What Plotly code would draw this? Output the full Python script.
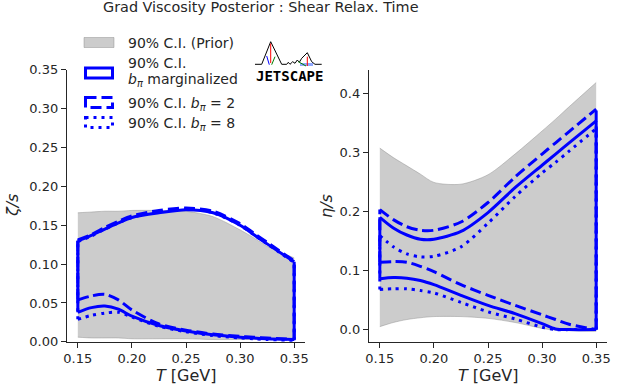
import plotly.graph_objects as go
from plotly.subplots import make_subplots

# temperatures (GeV) where the bands were read
T = [0.15, 0.1625, 0.175, 0.1875, 0.2, 0.225, 0.25, 0.275, 0.3, 0.3125, 0.325, 0.35]

# zeta/s  -- bulk viscosity
zeta_prior_hi = [0.166, 0.167, 0.168, 0.168, 0.169, 0.169, 0.168, 0.161, 0.144, 0.134, 0.123, 0.108]
zeta_prior_lo = [0.006, 0.005, 0.005, 0.005, 0.004, 0.004, 0.004, 0.003, 0.003, 0.003, 0.003, 0.003]
zeta_marg_hi = [0.130, 0.137, 0.145, 0.153, 0.160, 0.166, 0.170, 0.166, 0.150, 0.138, 0.126, 0.103]
zeta_marg_lo = [0.038, 0.044, 0.046, 0.042, 0.033, 0.021, 0.014, 0.009, 0.006, 0.005, 0.004, 0.003]
zeta_b2_hi = [0.131, 0.138, 0.147, 0.155, 0.162, 0.169, 0.172, 0.168, 0.152, 0.140, 0.128, 0.104]
zeta_b2_lo = [0.054, 0.059, 0.061, 0.054, 0.041, 0.023, 0.015, 0.010, 0.007, 0.006, 0.005, 0.003]
zeta_b8_hi = [0.129, 0.136, 0.145, 0.153, 0.160, 0.167, 0.171, 0.166, 0.150, 0.138, 0.126, 0.102]
zeta_b8_lo = [0.029, 0.034, 0.037, 0.038, 0.032, 0.020, 0.013, 0.008, 0.005, 0.004, 0.003, 0.002]

# eta/s  -- shear viscosity
eta_prior_hi = [0.307, 0.291, 0.277, 0.263, 0.249, 0.246, 0.262, 0.297, 0.336, 0.356, 0.377, 0.418]
eta_prior_lo = [0.005, 0.012, 0.017, 0.020, 0.022, 0.022, 0.019, 0.012, 0.002, -0.001, -0.002, -0.003]
eta_marg_hi = [0.190, 0.172, 0.160, 0.153, 0.153, 0.166, 0.198, 0.240, 0.278, 0.297, 0.316, 0.353]
eta_marg_lo = [0.086, 0.088, 0.087, 0.083, 0.076, 0.058, 0.041, 0.027, 0.010, 0.001, 0.0, 0.0]
eta_b2_hi = [0.203, 0.186, 0.174, 0.168, 0.168, 0.182, 0.215, 0.258, 0.297, 0.316, 0.335, 0.373]
eta_b2_lo = [0.114, 0.115, 0.114, 0.107, 0.098, 0.076, 0.058, 0.041, 0.025, 0.017, 0.009, 0.0]
eta_b8_hi = [0.159, 0.140, 0.128, 0.123, 0.124, 0.140, 0.180, 0.225, 0.265, 0.283, 0.302, 0.340]
eta_b8_lo = [0.068, 0.069, 0.069, 0.066, 0.062, 0.046, 0.030, 0.018, 0.004, 0.0, 0.0, 0.0]

x_ticks = [0.15, 0.20, 0.25, 0.30, 0.35]
zeta_ticks = [0.0, 0.05, 0.10, 0.15, 0.20, 0.25, 0.30, 0.35]
eta_ticks = [0.0, 0.1, 0.2, 0.3, 0.4]

W, H = 628, 390
BLUE = "#0000ff"
GREY = "rgba(128,128,128,0.4)"
INK = "#262626"
FONT = "DejaVu Sans"
DASHED = "11px,5px"
DOTTED = "3px,5px"


def px(x, y):
    # pixel position -> paper coords (margins are zero)
    return x / W, 1 - y / H


fig = make_subplots(rows=1, cols=2)


def add_prior(col, lo, hi):
    fig.add_trace(go.Scatter(x=T, y=lo, mode="lines", hoverinfo="skip",
                             line=dict(color=GREY, width=1, shape="spline", smoothing=0.8)),
                  row=1, col=col)
    fig.add_trace(go.Scatter(x=T, y=hi, mode="lines", hoverinfo="skip", fill="tonexty",
                             fillcolor=GREY,
                             line=dict(color=GREY, width=1, shape="spline", smoothing=0.8)),
                  row=1, col=col)


def add_band(col, lo, hi, dash):
    # outline of a credible band: upper, lower and the two end edges
    for ys in (hi, lo):
        fig.add_trace(go.Scatter(x=T, y=ys, mode="lines", hoverinfo="skip", cliponaxis=False,
                                 line=dict(color=BLUE, width=3, dash=dash,
                                           shape="spline", smoothing=0.8)),
                      row=1, col=col)
    fig.add_trace(go.Scatter(x=[T[0], T[0], None, T[-1], T[-1]],
                             y=[lo[0], hi[0], None, lo[-1], hi[-1]],
                             mode="lines", hoverinfo="skip", cliponaxis=False,
                             line=dict(color=BLUE, width=3, dash=dash)),
                  row=1, col=col)


# === zeta/s ===
add_prior(1, zeta_prior_lo, zeta_prior_hi)
add_band(1, zeta_b8_lo, zeta_b8_hi, DOTTED)
add_band(1, zeta_b2_lo, zeta_b2_hi, DASHED)
add_band(1, zeta_marg_lo, zeta_marg_hi, "solid")

# === eta/s ===
add_prior(2, eta_prior_lo, eta_prior_hi)
add_band(2, eta_b8_lo, eta_b8_hi, DOTTED)
add_band(2, eta_b2_lo, eta_b2_hi, DASHED)
add_band(2, eta_marg_lo, eta_marg_hi, "solid")

axis_style = dict(showline=True, linecolor=INK, linewidth=1.25, ticks="outside",
                  ticklen=5, tickwidth=1.25, tickcolor=INK, showgrid=False,
                  zeroline=False, automargin=False,
                  tickfont=dict(family=FONT, size=13, color=INK))

y_dom = [1 - 342 / H, 1 - 69.5 / H]
fig.update_layout(
    xaxis=dict(domain=[67 / W, 305 / W], range=[0.14, 0.36], tickvals=x_ticks,
               tickformat=".2f", ticklabelstandoff=-1, **axis_style),
    xaxis2=dict(domain=[369 / W, 607 / W], range=[0.14, 0.36], tickvals=x_ticks,
                tickformat=".2f", ticklabelstandoff=-1, **axis_style),
    yaxis=dict(domain=y_dom, range=[-0.0002, 0.3503], tickvals=zeta_ticks,
               tickformat=".2f", **axis_style),
    yaxis2=dict(domain=y_dom, range=[-0.021, 0.44], tickvals=eta_ticks,
                tickformat=".1f", **axis_style),
)

# === texts ===
notes = [
    dict(text="Grad Viscosity Posterior : Shear Relax. Time", x=261, y=6.7, size=14.4),
    dict(text="<i>T</i> [GeV]", x=186, y=375, size=16),
    dict(text="<i>T</i> [GeV]", x=488, y=375, size=16),
    dict(text="<i>ζ/s</i>", x=12, y=206, size=16, angle=-90),
    dict(text="<i>η/s</i>", x=326, y=206, size=16, angle=-90),
]
for n in notes:
    x, y = px(n["x"], n["y"])
    fig.add_annotation(text=n["text"], x=x, y=y, xref="paper", yref="paper",
                       xanchor="center", yanchor="middle", showarrow=False,
                       textangle=n.get("angle", 0),
                       font=dict(family=FONT, size=n["size"], color=INK))

# === hand-drawn legend ===
legend_rows = [
    ("90% C.I. (Prior)", 42.7),
    ("90% C.I.", 63.3),
    ("<i>b</i><sub><i>π</i></sub> marginalized", 80.5),
    ("90% C.I. <i>b</i><sub><i>π</i></sub> = 2", 103.8),
    ("90% C.I. <i>b</i><sub><i>π</i></sub> = 8", 124.4),
]
for text, y in legend_rows:
    xx, yy = px(126, y)
    fig.add_annotation(text=text, x=xx, y=yy, xref="paper", yref="paper",
                       xanchor="left", yanchor="middle", showarrow=False,
                       font=dict(family=FONT, size=14, color=INK))

x0, y0 = px(84, 37.5)
x1, y1 = px(114, 47.5)
fig.add_shape(type="rect", xref="paper", yref="paper", x0=x0, y0=y0, x1=x1, y1=y1,
              fillcolor=GREY, line=dict(color=GREY, width=1))
for top, dash in ((68, "solid"), (97.5, DASHED), (117.5, DOTTED)):
    x0, y0 = px(85.5, top)
    x1, y1 = px(112.5, top + 10)
    fig.add_shape(type="rect", xref="paper", yref="paper", x0=x0, y0=y0, x1=x1, y1=y1,
                  line=dict(color=BLUE, width=3, dash=dash))

# === JETSCAPE logo ===
def path(points):
    pts = [px(x, y) for x, y in points]
    return "M " + " L ".join(f"{a:.5f},{b:.5f}" for a, b in pts)


logo = [
    ([(255, 64.3), (261.7, 64.3), (270.7, 41.7), (281.7, 64.3), (286.7, 64.3),
      (288.3, 62.3), (290, 64.3), (292.7, 61.7), (295, 63.3), (297.3, 60),
      (299.3, 62.3), (301.7, 58.3), (305, 55), (307.3, 52.7), (311.7, 61.7),
      (315, 64.3), (321.7, 64.3)], "black", 1),
    ([(300, 64.5), (313, 64.5)], "rgba(70,110,255,0.6)", 3),
    ([(270.7, 43.5), (270.7, 63)], "red", 1),
    ([(266.7, 56), (269.3, 64.7)], "blue", 1),
    ([(271.7, 64.7), (275, 56.7)], "green", 1),
    ([(307.3, 56.7), (307.3, 66)], "red", 1),
    ([(298.3, 61.7), (306, 66)], "green", 1),
]
for pts, color, width in logo:
    fig.add_shape(type="path", xref="paper", yref="paper", path=path(pts),
                  line=dict(color=color, width=width))

lx, ly = px(289.5, 76.3)
fig.add_annotation(text="<b>JETSCAPE</b>", x=lx, y=ly, xref="paper", yref="paper",
                   xanchor="center", yanchor="middle", showarrow=False,
                   font=dict(family="DejaVu Sans Mono", size=14, color="black"))

fig.update_layout(
    width=W, height=H,
    margin=dict(l=0, r=0, t=0, b=0, autoexpand=False),
    showlegend=False,
    plot_bgcolor="white",
    paper_bgcolor="white",
    font=dict(family=FONT, color=INK),
)

# the page's default 8px body margin would push the figure out of the window
fig.write_html("out.html", config={"displayModeBar": False},
               post_script="document.body.style.margin = '0';")
